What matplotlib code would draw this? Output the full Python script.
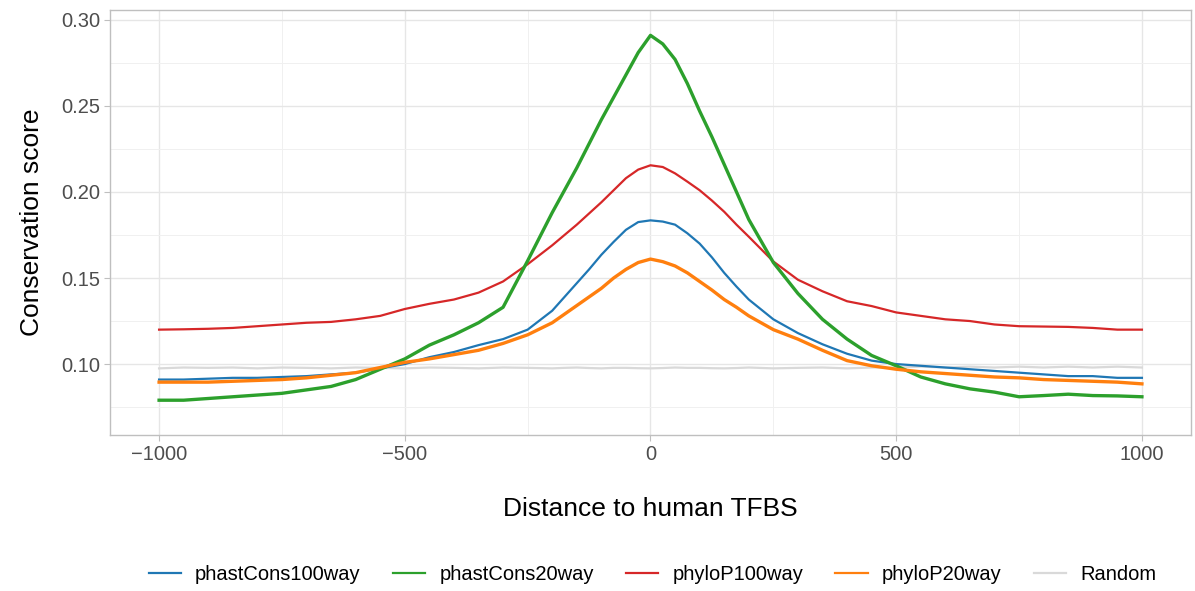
import numpy as np
import matplotlib.pyplot as plt
from matplotlib.ticker import MultipleLocator

# distance to TFBS (bp): every 50 bp on the flanks, every 25 bp around the peak
distance = list(range(-1000, -199, 50)) + list(range(-175, 176, 25)) + list(range(200, 1001, 50))

phastcons100 = [0.091, 0.091, 0.0915, 0.092, 0.092, 0.0925, 0.093, 0.094, 0.095, 0.0975,
                0.100, 0.104, 0.107, 0.111, 0.1145, 0.120, 0.131,
                0.139, 0.147, 0.155, 0.1635, 0.171, 0.178, 0.1825, 0.1835, 0.1828, 0.181,
                0.176, 0.170, 0.162, 0.153, 0.145,
                0.1375, 0.126, 0.118, 0.1115, 0.106, 0.102, 0.100, 0.099, 0.098, 0.097,
                0.096, 0.095, 0.094, 0.093, 0.093, 0.092, 0.092]

phastcons20 = [0.079, 0.079, 0.080, 0.081, 0.082, 0.083, 0.085, 0.087, 0.091, 0.097,
               0.103, 0.111, 0.117, 0.124, 0.133, 0.160, 0.188,
               0.201, 0.214, 0.228, 0.242, 0.255, 0.268, 0.281, 0.291, 0.286, 0.277,
               0.263, 0.247, 0.232, 0.216, 0.200,
               0.184, 0.159, 0.141, 0.126, 0.1145, 0.105, 0.099, 0.0925, 0.0885, 0.0856,
               0.0837, 0.081, 0.0817, 0.0825, 0.0817, 0.0815, 0.081]

phylop100 = [0.120, 0.1202, 0.1205, 0.121, 0.122, 0.123, 0.124, 0.1245, 0.126, 0.128,
             0.132, 0.135, 0.1375, 0.1415, 0.148, 0.158, 0.169,
             0.175, 0.181, 0.1875, 0.194, 0.201, 0.208, 0.213, 0.2155, 0.2145, 0.2108,
             0.206, 0.201, 0.195, 0.1885, 0.181,
             0.174, 0.1596, 0.149, 0.1423, 0.1365, 0.1337, 0.130, 0.128, 0.126, 0.125,
             0.123, 0.122, 0.1218, 0.1216, 0.121, 0.120, 0.120]

phylop20 = [0.0895, 0.0895, 0.0895, 0.090, 0.0905, 0.091, 0.092, 0.0935, 0.095, 0.098,
            0.101, 0.103, 0.1055, 0.108, 0.112, 0.117, 0.124,
            0.129, 0.134, 0.139, 0.144, 0.150, 0.155, 0.159, 0.161, 0.1595, 0.157,
            0.153, 0.148, 0.143, 0.1375, 0.133,
            0.128, 0.120, 0.1145, 0.108, 0.102, 0.099, 0.097, 0.0955, 0.0945, 0.0935,
            0.0925, 0.092, 0.091, 0.0905, 0.090, 0.0895, 0.0885]

random_bg = [0.0975, 0.098, 0.0978, 0.098, 0.0975, 0.098, 0.0978, 0.0975, 0.098, 0.0978,
             0.0975, 0.098, 0.0978, 0.0975, 0.098, 0.0978, 0.0975,
             0.0978, 0.098, 0.0977, 0.0975, 0.0978, 0.0978, 0.0976, 0.0975, 0.0977, 0.098,
             0.0978, 0.0978, 0.0976, 0.0975, 0.0977,
             0.098, 0.0975, 0.0978, 0.098, 0.0975, 0.098, 0.098, 0.0985, 0.098, 0.0985,
             0.098, 0.0985, 0.098, 0.0985, 0.098, 0.0985, 0.098]

plt.rcParams['font.family'] = ['Liberation Sans', 'DejaVu Sans']

fig = plt.figure(figsize=(11.95, 5.91), dpi=100)
ax = fig.add_axes([0.092, 0.264, 0.9047, 0.719])

ax.plot(distance, random_bg, color="#d9d9d9", lw=1.6, label="Random", zorder=2)
ax.plot(distance, phastcons100, color="#1f77b4", lw=1.6, label="phastCons100way", zorder=3)
ax.plot(distance, phylop100, color="#d62728", lw=1.6, label="phyloP100way", zorder=4)
ax.plot(distance, phastcons20, color="#2ca02c", lw=2.4, label="phastCons20way", zorder=5)
ax.plot(distance, phylop20, color="#ff7f0e", lw=2.4, label="phyloP20way", zorder=6)

ax.set_xlim(-1100, 1100)
ax.set_ylim(0.0588, 0.3057)
ax.xaxis.set_major_locator(MultipleLocator(500))
ax.xaxis.set_minor_locator(MultipleLocator(250))
ax.yaxis.set_major_locator(MultipleLocator(0.05))
ax.yaxis.set_minor_locator(MultipleLocator(0.025))
ax.yaxis.set_major_formatter(plt.FuncFormatter(lambda v, p: f"{v:.2f}"))
ax.xaxis.set_major_formatter(plt.FuncFormatter(lambda v, p: f"{int(v)}".replace("-", "\u2212")))

ax.grid(which="major", color="#e6e6e6", lw=1.0)
ax.grid(which="minor", color="#f0f0f0", lw=0.7)
ax.set_axisbelow(True)
for s in ax.spines.values():
    s.set_color("#bfbfbf")
    s.set_linewidth(1.0)
ax.tick_params(which="major", length=4, color="#bfbfbf", labelsize=14.5, labelcolor="#4d4d4d", pad=3)
ax.tick_params(which="minor", length=0)

ax.set_xlabel("Distance to human TFBS", fontsize=19, labelpad=24)
ax.set_ylabel("Conservation score", fontsize=19, labelpad=12)

handles, labels = ax.get_legend_handles_labels()
order = ["phastCons100way", "phastCons20way", "phyloP100way", "phyloP20way", "Random"]
hmap = dict(zip(labels, handles))
leg = fig.legend([hmap[k] for k in order], order, loc="center", bbox_to_anchor=(0.546, 0.028),
                 ncol=5, frameon=False, fontsize=14.5, handlelength=1.6, columnspacing=1.6,
                 handletextpad=0.7)
for line in leg.get_lines():
    line.set_linewidth(1.6)

plt.savefig("out.png", dpi=100)
